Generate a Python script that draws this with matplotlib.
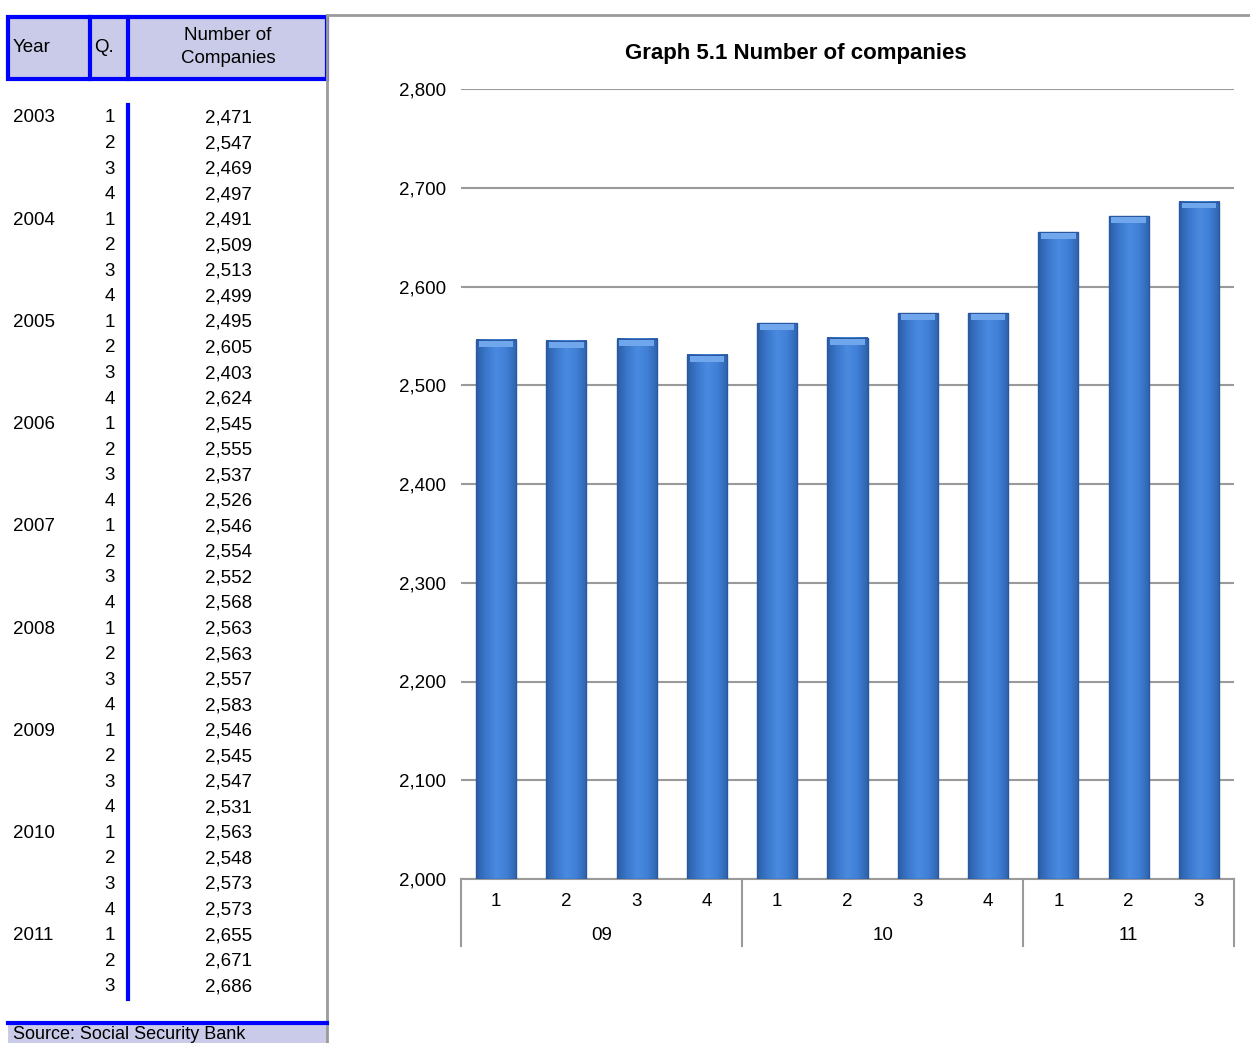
import matplotlib.pyplot as plt
import numpy as np
from matplotlib.colors import LinearSegmentedColormap
from matplotlib.patches import Rectangle

plt.rcParams['font.family'] = ['Liberation Sans', 'DejaVu Sans']

years = ['2003', '2004', '2005', '2006', '2007', '2008', '2009', '2010', '2011']
companies = [
    [2471, 2547, 2469, 2497],
    [2491, 2509, 2513, 2499],
    [2495, 2605, 2403, 2624],
    [2545, 2555, 2537, 2526],
    [2546, 2554, 2552, 2568],
    [2563, 2563, 2557, 2583],
    [2546, 2545, 2547, 2531],
    [2563, 2548, 2573, 2573],
    [2655, 2671, 2686],
]
chart_years = ['09', '10', '11']
chart_start = 6  # 2009 onwards in the graph
y_ticks = [2000, 2100, 2200, 2300, 2400, 2500, 2600, 2700, 2800]

W, H = 1250, 1043
fig = plt.figure(figsize=(W / 100, H / 100), dpi=100)

# overlay in pixel coordinates for the table and frame
ov = fig.add_axes([0, 0, 1, 1])
ov.set_xlim(0, W)
ov.set_ylim(H, 0)
ov.axis('off')

lav = '#c9cbe8'
blue = '#0000ff'
gray = '#9a9a9a'

# frame lines
ov.plot([327, 327], [15, H], color=gray, lw=2)
ov.plot([327, W], [15, 15], color=gray, lw=2)

# header
ov.add_patch(Rectangle((8, 17), 319, 62, facecolor=lav, edgecolor=blue, lw=3))
ov.plot([90, 90], [17, 79], color=blue, lw=3)
ov.plot([128, 128], [17, 79], color=blue, lw=3)
fs = 13.5
ov.text(13, 47, 'Year', fontsize=fs, va='center', ha='left')
ov.text(94, 47, 'Q.', fontsize=fs, va='center', ha='left')
ov.text(228, 47, 'Number of\nCompanies', fontsize=fs, va='center', ha='center',
        linespacing=1.45)

# table rows
row_y = 118
step = 25.55
for yi, yr in enumerate(years):
    for qi, val in enumerate(companies[yi]):
        if qi == 0:
            ov.text(13, row_y, yr, fontsize=fs, va='center', ha='left')
        ov.text(115, row_y, str(qi + 1), fontsize=fs, va='center', ha='right')
        ov.text(252, row_y, f'{val:,}', fontsize=fs, va='center', ha='right')
        row_y += step
ov.plot([128, 128], [105, row_y - step + 12], color=blue, lw=3)

# source box
ov.add_patch(Rectangle((8, 1023), 319, 30, facecolor=lav, edgecolor='none'))
ov.plot([8, 327], [1023, 1023], color=blue, lw=3)
ov.text(13, 1026, 'Source: Social Security Bank', fontsize=13, va='top', ha='left')

# chart
vals = [v for row in companies[chart_start:] for v in row]
qlabels = [str(q + 1) for row in companies[chart_start:] for q in range(len(row))]
n = len(vals)
x = np.arange(n)

ax = fig.add_axes([461 / W, 1 - 879 / H, (1234 - 461) / W, 790 / H])
ax.set_xlim(-0.5, n - 0.5)
ax.set_ylim(2000, 2800)
ax.set_yticks(y_ticks)
ax.set_yticklabels([f'{t:,}' for t in y_ticks], fontsize=fs)
ax.tick_params(axis='y', length=0, pad=11)
ax.set_xticks([])
for s in ['top', 'right', 'left']:
    ax.spines[s].set_visible(False)
ax.spines['bottom'].set_color(gray)
ax.spines['bottom'].set_linewidth(1.5)
ax.yaxis.grid(True, color=gray, lw=1.5)
ax.set_axisbelow(True)

cmap = LinearSegmentedColormap.from_list(
    'bar', ['#2c5ea6', '#3b78cc', '#4a8ae0', '#3f7fd6', '#2f63ad'])
grad = np.linspace(0, 1, 64).reshape(1, -1)
bw = 0.57
for xi, v in zip(x, vals):
    ax.imshow(grad, cmap=cmap, aspect='auto', zorder=3,
              extent=(xi - bw / 2, xi + bw / 2, 2000, v))
    ax.add_patch(Rectangle((xi - bw / 2, 2000), bw, v - 2000, fill=False,
                           edgecolor='#2a58a0', lw=1, zorder=4))
    # light top cap
    ax.add_patch(Rectangle((xi - bw / 2 + 0.04, v - 7), bw - 0.08, 6,
                           facecolor='#6fa6ec', edgecolor='none', zorder=4))
ax.set_xlim(-0.5, n - 0.5)
ax.set_ylim(2000, 2800)

ax.set_title('Graph 5.1 Number of companies', fontsize=16, fontweight='bold',
             pad=0, y=1.038, x=(796 - 461) / (1234 - 461))

# x-axis labels: quarters and years
tr = ax.get_xaxis_transform()
for xi, ql in zip(x, qlabels):
    ax.text(xi, -22 / 790, ql, fontsize=fs, ha='center', va='center', transform=tr)
pos = 0
seps = [-0.5]
for yl, row in zip(chart_years, companies[chart_start:]):
    mid = pos + (len(row) - 1) / 2
    ax.text(mid, -56 / 790, yl, fontsize=fs, ha='center', va='center', transform=tr)
    pos += len(row)
    seps.append(pos - 0.5)
for sx in seps:
    ax.plot([sx, sx], [0, -67 / 790], color=gray, lw=1.5, transform=tr,
            clip_on=False)

fig.savefig('out.png', dpi=100)
